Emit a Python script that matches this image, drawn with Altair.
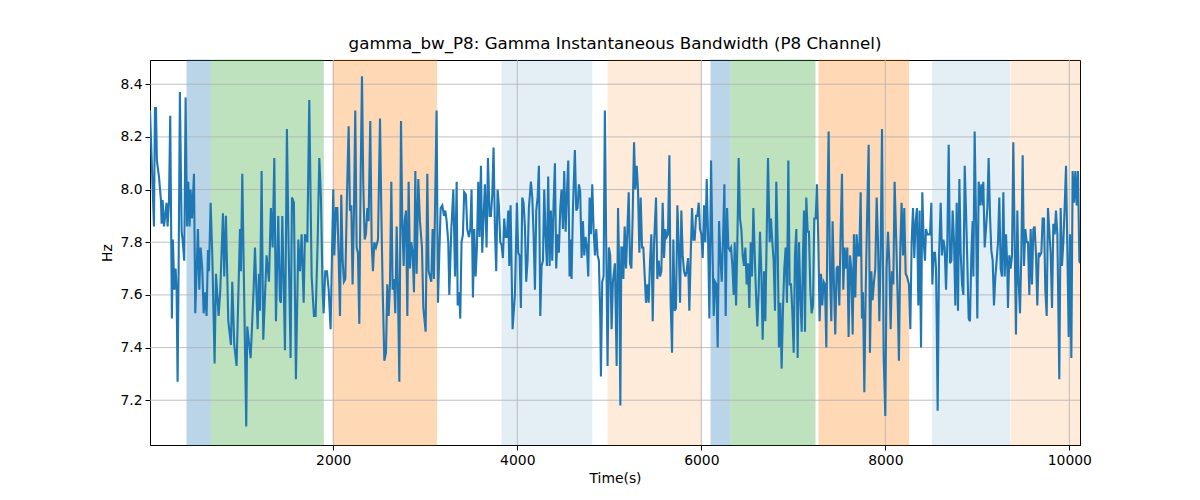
import altair as alt
import pandas as pd

# ---- data (time in s, bandwidth in Hz) ----
seg1 = [(8, 8.30), (51, 7.86), (62, 8.31), (73, 8.31), (83, 8.11), (105, 8.05), (127, 7.96), (134, 7.87),
        (145, 7.96), (160, 7.86), (170, 7.89), (188, 7.95), (199, 7.86), (214, 7.95), (228, 8.28), (246, 7.51),
        (257, 7.81), (272, 7.62), (286, 7.70), (297, 7.62), (308, 7.27), (319, 7.70), (333, 8.37), (352, 7.84),
        (362, 7.81), (380, 7.73), (395, 8.35), (410, 7.86), (424, 8.03), (438, 7.86), (449, 8.00), (464, 7.89),
        (486, 8.06), (500, 7.53), (529, 7.85), (544, 7.62), (558, 7.78), (576, 7.70), (591, 7.53), (605, 7.61),
        (623, 7.52), (638, 7.77), (649, 7.69), (667, 7.95), (685, 7.75), (710, 7.34), (725, 7.68), (754, 7.52),
        (772, 7.62), (801, 7.91), (815, 7.67), (833, 7.90), (859, 7.50), (888, 7.41), (902, 7.65), (924, 7.41),
        (949, 7.33), (986, 7.85), (996, 7.69), (1011, 8.06), (1029, 7.65), (1054, 7.10), (1065, 7.48), (1102, 7.36),
        (1134, 7.62), (1149, 7.78), (1178, 7.47), (1192, 7.68), (1203, 7.54), (1221, 8.07), (1239, 7.43), (1275, 7.75),
        (1301, 7.65), (1322, 7.93), (1341, 7.78), (1359, 8.12), (1377, 7.50), (1402, 7.90), (1420, 7.58), (1431, 7.57),
        (1446, 7.90), (1475, 7.39), (1496, 8.23), (1511, 7.86), (1536, 7.36), (1551, 7.97), (1572, 7.95), (1594, 7.28),
        (1620, 7.81), (1638, 7.69), (1656, 7.83), (1678, 7.57), (1692, 7.83)]

seg2 = [(1718, 7.80), (1739, 8.34), (1765, 7.67), (1790, 7.52), (1808, 7.52), (1830, 7.80), (1848, 8.12), (1866, 7.97),
        (1884, 7.62), (1895, 7.53), (1913, 7.69), (1931, 7.69), (1950, 7.62), (1971, 7.47), (1989, 7.81), (2000, 8.00),
        (2011, 7.75), (2029, 7.93), (2044, 7.93), (2058, 7.75), (2073, 7.52), (2087, 7.98), (2102, 7.73), (2116, 7.65),
        (2131, 7.66), (2149, 7.98), (2167, 8.24), (2181, 7.92), (2196, 7.94), (2210, 7.64), (2225, 7.92), (2239, 8.30),
        (2254, 7.78), (2268, 7.76), (2283, 7.49), (2297, 8.03), (2312, 8.43), (2326, 8.02), (2341, 7.81), (2355, 7.83),
        (2370, 7.93), (2384, 7.88), (2402, 8.26), (2417, 7.80), (2431, 7.69), (2446, 7.80), (2464, 7.78), (2486, 7.81),
        (2508, 8.27), (2522, 7.92), (2537, 7.62), (2555, 7.35), (2573, 7.38), (2587, 7.64), (2602, 7.52), (2616, 7.64),
        (2631, 8.03), (2645, 7.62), (2660, 7.66), (2674, 7.53), (2689, 7.86), (2703, 7.62), (2718, 7.27), (2736, 8.26),
        (2750, 7.88), (2765, 7.71), (2776, 7.88), (2790, 7.92), (2805, 7.52), (2819, 8.03), (2834, 7.70), (2848, 7.80),
        (2863, 7.76), (2877, 7.61), (2892, 8.07), (2906, 7.68), (2924, 8.04), (2942, 7.88), (2964, 7.78), (2979, 7.55),
        (3004, 7.46), (3022, 8.06), (3036, 7.69), (3051, 7.67), (3065, 7.65), (3080, 7.85), (3094, 7.66), (3123, 8.30),
        (3138, 7.57), (3152, 7.75), (3167, 7.93), (3185, 7.94), (3203, 7.90), (3218, 7.92), (3232, 7.88), (3250, 7.80),
        (3261, 7.60), (3283, 7.85), (3305, 8.00), (3323, 7.67), (3341, 8.03), (3352, 7.56), (3370, 7.61)]

seg3 = [(3380, 7.51), (3394, 7.80), (3409, 7.83), (3423, 7.99), (3442, 7.98), (3456, 7.85), (3474, 7.82), (3489, 7.85),
        (3503, 8.00), (3518, 7.59), (3532, 7.85), (3547, 7.67), (3561, 7.78), (3576, 8.03), (3590, 7.82), (3605, 8.09),
        (3619, 7.76), (3634, 7.90), (3648, 8.02), (3666, 7.78), (3681, 8.12), (3699, 7.90), (3713, 7.90), (3728, 7.98),
        (3742, 8.16), (3757, 7.85), (3771, 7.69), (3786, 8.00), (3800, 7.94), (3815, 7.80), (3829, 7.79), (3844, 7.74),
        (3858, 7.89), (3873, 7.82), (3887, 7.82), (3902, 7.92), (3913, 7.71), (3927, 7.94), (3949, 7.47), (3974, 7.60),
        (3996, 7.95), (4010, 7.76), (4025, 7.75), (4039, 7.55), (4054, 7.97), (4068, 7.95), (4083, 7.86), (4097, 7.65),
        (4112, 7.73), (4126, 7.93), (4148, 8.03), (4163, 7.97), (4177, 7.83), (4192, 7.62), (4206, 7.92), (4221, 7.97),
        (4235, 8.09), (4250, 7.52), (4264, 7.71), (4279, 7.73), (4293, 8.00), (4307, 7.83), (4322, 7.71), (4336, 8.05),
        (4351, 7.71), (4365, 7.92), (4380, 7.73), (4394, 7.94), (4409, 8.10), (4423, 7.70), (4438, 7.83), (4452, 7.76),
        (4467, 7.93), (4481, 8.00), (4496, 7.85), (4510, 8.07), (4525, 7.84), (4539, 7.98), (4554, 8.11), (4568, 7.67),
        (4579, 7.81), (4590, 7.66), (4605, 7.93), (4626, 8.15), (4641, 7.92), (4655, 7.93), (4670, 8.02), (4684, 7.99),
        (4699, 7.74), (4713, 7.88), (4728, 7.75), (4742, 7.82), (4757, 7.78), (4771, 7.67), (4786, 7.97), (4800, 7.83),
        (4815, 8.02), (4829, 7.85), (4844, 7.75), (4858, 7.85), (4873, 7.75), (4887, 7.73), (4902, 7.51), (4909, 7.29),
        (4923, 7.65), (4938, 7.67), (4952, 8.30), (4967, 7.78), (4981, 7.33), (4996, 7.78), (5010, 7.75), (5025, 7.47),
        (5039, 7.65), (5061, 7.72)]

seg4 = [(5080, 7.33), (5095, 7.93), (5109, 7.67), (5120, 7.18), (5131, 7.78), (5146, 7.78), (5153, 7.66), (5167, 7.86),
        (5182, 7.70), (5196, 7.84), (5211, 7.99), (5225, 7.72), (5240, 7.70), (5254, 7.90), (5269, 8.18), (5283, 8.00),
        (5298, 8.09), (5312, 8.00), (5327, 7.76), (5341, 7.97), (5356, 7.78), (5370, 7.78), (5385, 7.67), (5399, 7.57),
        (5414, 7.64), (5428, 7.57), (5443, 7.73), (5457, 7.83), (5472, 7.50), (5486, 7.79), (5508, 7.97), (5522, 7.66),
        (5537, 7.73), (5551, 7.67), (5566, 7.69), (5580, 7.95), (5595, 7.74), (5609, 7.85), (5624, 7.82), (5638, 7.83),
        (5653, 8.13), (5667, 7.57), (5682, 7.38), (5696, 7.81), (5711, 7.54), (5725, 7.55), (5740, 7.94), (5754, 7.80),
        (5769, 7.57), (5783, 7.92), (5798, 7.75), (5812, 7.69), (5827, 7.67), (5841, 7.69), (5856, 7.74), (5870, 7.54),
        (5885, 7.75), (5899, 7.93), (5914, 7.81), (5928, 7.81), (5943, 7.90), (5957, 7.90), (5972, 7.95), (5986, 7.85),
        (6001, 7.83), (6015, 7.74), (6030, 7.94), (6044, 7.80), (6059, 8.04), (6073, 7.83), (6088, 7.51), (6106, 8.11),
        (6120, 7.80), (6135, 7.52), (6149, 7.65), (6164, 7.64), (6178, 7.40), (6193, 7.88), (6207, 7.75), (6222, 7.65),
        (6236, 7.81), (6251, 8.02), (6265, 7.52), (6280, 7.93), (6294, 7.78), (6309, 7.77), (6323, 7.78), (6338, 7.71),
        (6352, 7.60), (6363, 7.80), (6378, 7.56), (6392, 7.80), (6406, 8.12), (6421, 7.89), (6435, 7.85), (6450, 7.75),
        (6464, 7.71), (6479, 7.78), (6493, 7.64), (6508, 7.72), (6522, 7.55), (6537, 7.80), (6551, 7.67), (6566, 7.93),
        (6580, 7.76), (6595, 7.60), (6609, 7.48), (6624, 7.62), (6638, 7.84), (6653, 7.68), (6667, 7.43), (6682, 7.69),
        (6696, 7.50), (6711, 7.83), (6725, 8.12)]

seg5 = [(6743, 7.80), (6757, 7.89), (6772, 7.80), (6786, 7.73), (6801, 7.54), (6815, 8.03), (6830, 7.80), (6844, 7.40),
        (6859, 7.57), (6873, 7.32), (6888, 7.55), (6902, 7.70), (6917, 7.78), (6931, 7.57), (6946, 8.11), (6960, 7.64),
        (6975, 7.64), (6989, 7.54), (7004, 7.38), (7018, 7.75), (7033, 7.85), (7047, 7.36), (7062, 7.80), (7076, 7.60),
        (7091, 7.46), (7105, 7.75), (7116, 7.92), (7127, 7.46), (7141, 7.97), (7156, 7.84), (7170, 7.84), (7185, 7.62),
        (7199, 7.53), (7214, 7.56), (7228, 7.89), (7243, 7.89), (7257, 8.02), (7272, 7.80), (7286, 7.50), (7301, 7.68),
        (7315, 7.56), (7330, 7.65), (7344, 7.64), (7359, 7.40), (7373, 7.97), (7384, 8.22), (7398, 7.69), (7413, 7.50),
        (7427, 7.88), (7442, 7.64), (7456, 7.45), (7471, 7.70), (7485, 7.71), (7500, 7.56), (7514, 7.83), (7529, 8.06),
        (7543, 7.62), (7558, 7.78), (7572, 7.70), (7587, 7.78), (7601, 7.44), (7616, 7.75), (7630, 7.70), (7645, 7.45),
        (7659, 7.83), (7674, 7.59), (7688, 7.83), (7703, 7.75), (7717, 7.75), (7732, 7.99), (7746, 7.51), (7757, 7.61),
        (7772, 7.23), (7786, 7.60), (7801, 7.88), (7819, 8.17), (7833, 7.38), (7848, 7.69), (7862, 7.58), (7877, 7.65),
        (7891, 7.70), (7906, 7.97), (7920, 7.81), (7935, 7.50), (7949, 7.75), (7964, 8.23), (7982, 7.37), (8000, 7.14),
        (8014, 7.70), (8029, 7.84), (8043, 7.73), (8058, 7.47), (8072, 7.69), (8087, 7.64), (8101, 8.03), (8119, 7.80),
        (8134, 7.59), (8148, 7.35), (8163, 7.78), (8177, 7.95), (8192, 7.75), (8206, 7.93), (8221, 7.68), (8235, 7.67),
        (8257, 7.64), (8272, 7.47), (8286, 7.80), (8301, 7.93), (8315, 7.74), (8330, 7.88), (8344, 7.93), (8359, 7.56),
        (8373, 7.92), (8388, 7.40), (8402, 7.99), (8417, 7.80), (8431, 7.73)]

seg6 = [(8442, 7.85), (8457, 7.83), (8471, 7.83), (8486, 7.83), (8500, 7.95), (8511, 7.64), (8526, 7.76), (8540, 7.76),
        (8551, 7.70), (8558, 7.52), (8569, 7.16), (8584, 7.75), (8602, 7.95), (8616, 7.75), (8631, 7.81), (8645, 7.78),
        (8660, 7.62), (8674, 7.80), (8689, 8.17), (8703, 7.72), (8718, 7.73), (8732, 7.92), (8747, 7.80), (8761, 7.56),
        (8776, 7.95), (8790, 7.54), (8805, 8.04), (8819, 7.76), (8834, 7.64), (8848, 7.60), (8863, 8.09), (8877, 7.92),
        (8891, 7.73), (8906, 7.51), (8920, 7.50), (8935, 7.75), (8949, 7.88), (8957, 7.67), (8971, 8.22), (8986, 7.88),
        (9000, 7.51), (9015, 8.03), (9029, 7.94), (9044, 8.02), (9058, 7.94), (9065, 8.03), (9080, 7.78), (9094, 7.85),
        (9109, 7.93), (9123, 8.12), (9138, 7.90), (9152, 7.77), (9167, 7.73), (9181, 7.56), (9196, 7.67), (9210, 7.73),
        (9225, 7.80), (9239, 7.97), (9254, 7.70), (9268, 7.67), (9283, 7.99), (9297, 7.67), (9312, 7.83), (9326, 7.70),
        (9333, 7.55), (9348, 7.75), (9362, 7.70), (9377, 7.75), (9391, 8.18), (9406, 7.80), (9420, 7.45), (9435, 7.92),
        (9449, 7.65), (9464, 7.53), (9478, 7.75), (9493, 8.13), (9507, 7.71), (9522, 7.85), (9536, 7.80), (9551, 7.80),
        (9565, 7.60), (9580, 7.85), (9594, 7.64), (9609, 7.85), (9623, 7.86), (9638, 7.75), (9652, 7.56), (9667, 7.76),
        (9681, 7.75), (9696, 7.76), (9710, 7.89), (9725, 7.89), (9739, 7.62), (9754, 7.52), (9768, 7.93), (9783, 7.84),
        (9797, 7.76), (9812, 7.55), (9826, 7.87), (9841, 7.83), (9855, 7.92), (9870, 7.83), (9891, 7.28), (9906, 7.93),
        (9920, 7.71), (9935, 7.80), (9949, 7.93), (9964, 8.09), (9978, 7.78), (9993, 7.44), (10007, 7.83), (10022, 7.36),
        (10036, 8.07), (10051, 7.95), (10065, 8.07), (10080, 7.94), (10094, 8.07), (10109, 7.73), (10116, 7.72)]

span_start = [410, 678, 2000, 3834, 4986, 6106, 6323, 7279, 8515, 9366]
span_end = [667, 1891, 3124, 4809, 6000, 6312, 7236, 8254, 9348, 10116]
span_color = ["#1f77b4", "#2ca02c", "#ff7f0e", "#1f77b4", "#ff7f0e",
              "#1f77b4", "#2ca02c", "#ff7f0e", "#1f77b4", "#ff7f0e"]
span_alpha = [0.3, 0.3, 0.3, 0.12, 0.15, 0.3, 0.3, 0.3, 0.12, 0.15]

x_ticks = [2000, 4000, 6000, 8000, 10000]
y_ticks = [7.2, 7.4, 7.6, 7.8, 8.0, 8.2, 8.4]
x_domain = [8, 10116]
y_domain = [7.030, 8.492]

# ---- build tables ----
rows = []
for seg in (seg1, seg2, seg3, seg4, seg5, seg6):
    rows.extend(seg)
line_df = pd.DataFrame(rows, columns=["t", "hz"])
span_df = pd.DataFrame({"start": span_start, "end": span_end, "c": span_color, "a": span_alpha})
xg_df = pd.DataFrame({"g": x_ticks})
yg_df = pd.DataFrame({"g": y_ticks})

FONT = "DejaVu Sans"
xs = alt.Scale(domain=x_domain, nice=False, zero=False)
ys = alt.Scale(domain=y_domain, nice=False, zero=False)
xaxis = alt.Axis(title="Time(s)", values=x_ticks, format="d", grid=False)
yaxis = alt.Axis(title="Hz", values=y_ticks, format=".1f", grid=False)

spans = alt.Chart(span_df).mark_rect(strokeWidth=1).encode(
    x=alt.X("start:Q", scale=xs, axis=xaxis),
    x2="end:Q",
    color=alt.Color("c:N", scale=None),
    stroke=alt.Stroke("c:N", scale=None),
    opacity=alt.Opacity("a:Q", scale=None),
)

xgrid = alt.Chart(xg_df).mark_rule(color="#b0b0b0", strokeWidth=0.8).encode(
    x=alt.X("g:Q", scale=xs, axis=xaxis)
)
ygrid = alt.Chart(yg_df).mark_rule(color="#b0b0b0", strokeWidth=0.8).encode(
    y=alt.Y("g:Q", scale=ys, axis=yaxis)
)

line = alt.Chart(line_df).mark_line(color="#1f77b4", strokeWidth=2.1, clip=True).encode(
    x=alt.X("t:Q", scale=xs, axis=xaxis),
    y=alt.Y("hz:Q", scale=ys, axis=yaxis),
)

chart = alt.layer(spans, xgrid, ygrid, line).properties(
    width=930,
    height=385,
    title=alt.TitleParams("gamma_bw_P8: Gamma Instantaneous Bandwidth (P8 Channel)",
                          font=FONT, fontSize=16.7, fontWeight="normal", color="black",
                          anchor="middle", offset=7),
    autosize=alt.AutoSizeParams(type="none"),
    padding={"left": 142, "top": 52, "right": 20, "bottom": 40},
).configure_view(
    stroke="black", strokeWidth=1
).configure_axis(
    labelFont=FONT, titleFont=FONT, labelFontSize=13.9, titleFontSize=13.9,
    titleFontWeight="normal", labelColor="black", titleColor="black",
    domainColor="black", domainWidth=1, tickColor="black", tickWidth=1,
    tickSize=5, labelPadding=3, titlePadding=5,
)

chart.save("out.html", embed_options={"renderer": "svg", "actions": False})
